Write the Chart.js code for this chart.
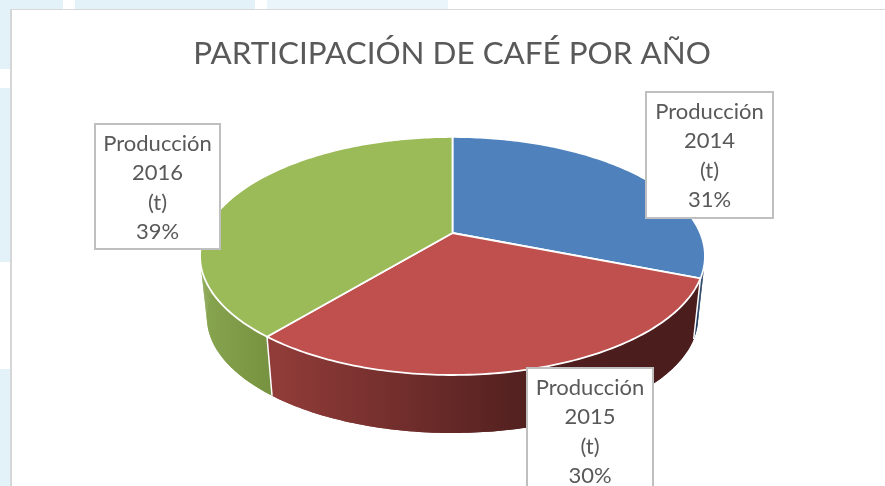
<!DOCTYPE html>
<html>
<head>
<meta charset="utf-8">
<title>Participación de café por año</title>
<script src="https://cdn.jsdelivr.net/npm/chart.js@4"></script>
<style>
  html, body { margin: 0; padding: 0; background: #fff; overflow: hidden; }
  #page { position: relative; width: 885px; height: 486px; overflow: hidden; }
  .cell { position: absolute; background: #e3f1f9; }
  #frame { position: absolute; left: 10px; top: 9px; width: 900px; height: 500px; background: #fff;
           border-left: 2px solid #d6d6d6; border-top: 1px solid #d9d9d9; }
  canvas { position: absolute; left: 0; top: 0; }
</style>
</head>
<body>
<div id="page">
  <div class="cell" style="left:0;top:0;width:63px;height:9px"></div>
  <div class="cell" style="left:75px;top:0;width:180px;height:9px"></div>
  <div class="cell" style="left:267px;top:0;width:181px;height:9px;background:#e9f5fb"></div>
  <div class="cell" style="left:0;top:0;width:10px;height:69px"></div>
  <div class="cell" style="left:0;top:88px;width:10px;height:174px"></div>
  <div class="cell" style="left:0;top:369px;width:10px;height:117px"></div>
  <div id="frame"></div>
  <canvas id="cafeChart" width="885" height="486"></canvas>
</div>
<script>
const categories = ['Producción 2014 (t)', 'Producción 2015 (t)', 'Producción 2016 (t)'];
const shares = [31, 30, 39];
const sliceColors = ['#4F81BD', '#C0504D', '#9BBB59'];
const labelLines = [['Producción', '2014', '(t)', '31%'], ['Producción', '2015', '(t)', '30%'], ['Producción', '2016', '(t)', '39%']];

// side wall colours, left to right
const wallColors = [
  [[0, '#1d3a5e'], [1, '#1d3a5e']],
  [[0, '#923c39'], [0.72, '#4f1f1e'], [1, '#4b1d1c']],
  [[0, '#87a44f'], [1, '#76913f']]
];
const wallRange = [[660, 710], [272, 640], [205, 275]];

// label boxes: left, top, right, bottom
const labelBoxes = [[646, 92, 773, 218], [527, 368, 653, 494], [95, 124, 220, 249]];

// perspective of the disc
const cx = 452.5, cy = 233, rx = 247.7, ry = 114.6, tilt = 0.193;
const depth = 61.8, shrink = 0.973;

function rimPoint(angle, bottom) {
  // chart.js angles start at -PI/2 (top) once rotation is 0
  const u = Math.cos(angle), v = -Math.sin(angle);
  const d = 1 + tilt * v;
  const x = rx * u / d, y = -ry * v / d;
  if (bottom) return [cx + x * shrink, cy + depth + y * shrink];
  return [cx + x, cy + y];
}

function rimSteps(arc) {
  return Math.max(8, Math.ceil((arc.endAngle - arc.startAngle) * 60));
}

function tracePoly(ctx, pts) {
  ctx.beginPath();
  pts.forEach((q, j) => j ? ctx.lineTo(q[0], q[1]) : ctx.moveTo(q[0], q[1]));
  ctx.closePath();
  ctx.fill();
}

function drawWall(ctx, arc, i) {
  const g = ctx.createLinearGradient(wallRange[i][0], 0, wallRange[i][1], 0);
  wallColors[i].forEach(s => g.addColorStop(s[0], s[1]));
  ctx.fillStyle = g;
  const n = rimSteps(arc);
  const angles = [];
  for (let k = 0; k <= n; k++) angles.push(arc.startAngle + (arc.endAngle - arc.startAngle) * k / n);
  // whole band first so the quad joins do not show
  tracePoly(ctx, angles.map(a => rimPoint(a)).concat(angles.slice().reverse().map(a => rimPoint(a, true))));
  for (let k = 0; k < n; k++) {
    tracePoly(ctx, [rimPoint(angles[k]), rimPoint(angles[k + 1]), rimPoint(angles[k + 1], true), rimPoint(angles[k], true)]);
  }
}

function drawTop(ctx, arc, color) {
  const n = rimSteps(arc);
  ctx.beginPath();
  ctx.moveTo(cx, cy);
  for (let k = 0; k <= n; k++) {
    const p = rimPoint(arc.startAngle + (arc.endAngle - arc.startAngle) * k / n);
    ctx.lineTo(p[0], p[1]);
  }
  ctx.closePath();
  ctx.fillStyle = color;
  ctx.fill();
  ctx.strokeStyle = '#fff';
  ctx.lineWidth = 1.8;
  ctx.lineJoin = 'round';
  ctx.stroke();
}

const pie3d = {
  id: 'pie3d',
  // the library works out the angles, this only projects them
  beforeDatasetsDraw(chart) {
    const ctx = chart.ctx;
    const arcs = chart.getDatasetMeta(0).data;
    ctx.save();
    [0, 2, 1].forEach(i => drawWall(ctx, arcs[i], i));
    // white seams between the walls
    ctx.strokeStyle = '#fff';
    ctx.lineWidth = 1.5;
    [arcs[0].endAngle, arcs[1].endAngle].forEach(a => {
      const t = rimPoint(a), b = rimPoint(a, true);
      ctx.beginPath();
      ctx.moveTo(t[0], t[1]);
      ctx.lineTo(b[0], b[1]);
      ctx.stroke();
    });
    arcs.forEach((arc, i) => drawTop(ctx, arc, sliceColors[i]));
    ctx.restore();
    return false;
  },
  afterDraw(chart) {
    const ctx = chart.ctx;
    ctx.save();
    labelBoxes.forEach((b, i) => {
      ctx.fillStyle = '#fff';
      ctx.fillRect(b[0], b[1], b[2] - b[0], b[3] - b[1]);
      ctx.strokeStyle = '#bfbfbf';
      ctx.lineWidth = 2;
      ctx.strokeRect(b[0], b[1], b[2] - b[0], b[3] - b[1]);
      ctx.fillStyle = '#595959';
      ctx.font = '22px Lato';
      ctx.textAlign = 'center';
      ctx.textBaseline = 'middle';
      labelLines[i].forEach((t, j) => {
        ctx.fillText(t, (b[0] + b[2]) / 2, b[1] + 20 + j * 29.4);
      });
    });
    ctx.restore();
  }
};

new Chart(document.getElementById('cafeChart'), {
  type: 'pie',
  data: {
    labels: categories,
    datasets: [{
      data: shares,
      backgroundColor: sliceColors,
      borderColor: '#fff'
    }]
  },
  options: {
    responsive: false,
    animation: false,
    events: [],
    layout: { padding: { top: 35, left: 19 } },
    plugins: {
      legend: { display: false },
      tooltip: { enabled: false },
      title: {
        display: true,
        text: 'PARTICIPACIÓN DE CAFÉ POR AÑO',
        color: '#595959',
        font: { family: 'Lato', size: 31.4, weight: 'normal' },
        padding: 0
      }
    }
  },
  plugins: [pie3d]
});
</script>
</body>
</html>
